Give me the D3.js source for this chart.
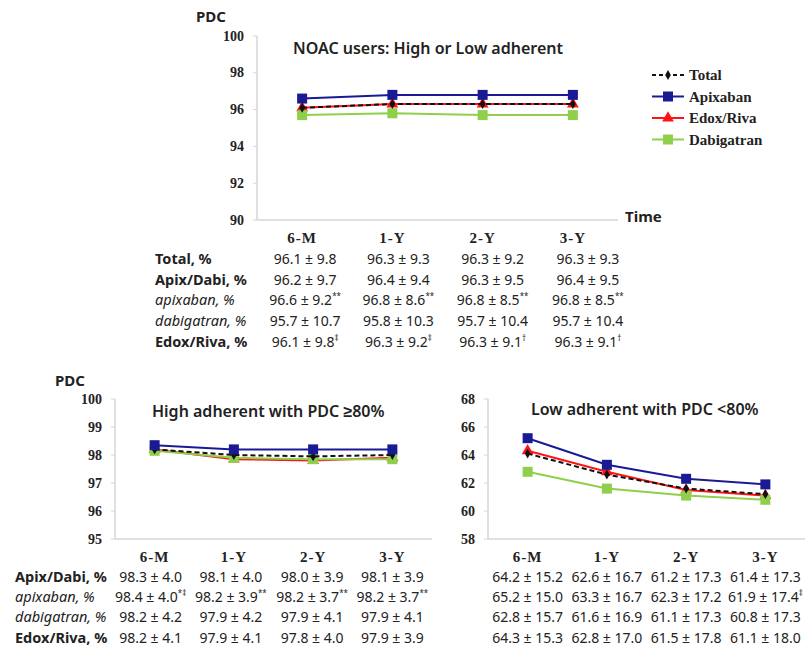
<!DOCTYPE html>
<html>
<head>
<meta charset="utf-8">
<script src="https://cdn.jsdelivr.net/npm/d3@7"></script>
<style>
  body { margin: 0; background: #fff; }
  svg { display: block; }
  .tick-lab { font-family: "Liberation Serif", serif; font-weight: bold; font-size: 14px; fill: #222; }
  .cat-lab { font-family: "Liberation Serif", serif; font-weight: bold; font-size: 15px; fill: #222; }
  .sans { font-family: "Noto Sans", sans-serif; fill: #222; }
</style>
</head>
<body>
<script>
'use strict';

// categories shared by all three panels
const periods = ['6-M', '1-Y', '2-Y', '3-Y'];
const seriesNames = ['Total', 'Apixaban', 'Edox/Riva', 'Dabigatran'];

// top panel: NOAC users, high or low adherent
const allTotal = [96.1, 96.3, 96.3, 96.3];
const allApixaban = [96.6, 96.8, 96.8, 96.8];
const allEdoxRiva = [96.1, 96.3, 96.3, 96.3];
const allDabigatran = [95.7, 95.8, 95.7, 95.7];
const allTicks = [90, 92, 94, 96, 98, 100];

// bottom left: high adherent
const highTotal = [98.2, 98.0, 97.95, 98.0];
const highApixaban = [98.35, 98.2, 98.2, 98.2];
const highEdoxRiva = [98.2, 97.85, 97.8, 97.9];
const highDabigatran = [98.15, 97.9, 97.85, 97.85];
const highTicks = [95, 96, 97, 98, 99, 100];

// bottom right: low adherent
const lowTotal = [64.1, 62.6, 61.6, 61.2];
const lowApixaban = [65.2, 63.3, 62.3, 61.9];
const lowEdoxRiva = [64.3, 62.8, 61.5, 61.1];
const lowDabigatran = [62.8, 61.6, 61.1, 60.8];
const lowTicks = [58, 60, 62, 64, 66, 68];

// table rows ("value|superscript")
const allRowLabels = ['Total, %', 'Apix/Dabi, %', 'apixaban, %', 'dabigatran, %', 'Edox/Riva, %'];
const allRows = [
  ['96.1 ± 9.8', '96.3 ± 9.3', '96.3 ± 9.2', '96.3 ± 9.3'],
  ['96.2 ± 9.7', '96.4 ± 9.4', '96.3 ± 9.5', '96.4 ± 9.5'],
  ['96.6 ± 9.2|**', '96.8 ± 8.6|**', '96.8 ± 8.5|**', '96.8 ± 8.5|**'],
  ['95.7 ± 10.7', '95.8 ± 10.3', '95.7 ± 10.4', '95.7 ± 10.4'],
  ['96.1 ± 9.8|‡', '96.3 ± 9.2|‡', '96.3 ± 9.1|†', '96.3 ± 9.1|†']
];
const subRowLabels = ['Apix/Dabi, %', 'apixaban, %', 'dabigatran, %', 'Edox/Riva, %'];
const highRows = [
  ['98.3 ± 4.0', '98.1 ± 4.0', '98.0 ± 3.9', '98.1 ± 3.9'],
  ['98.4 ± 4.0|*‡', '98.2 ± 3.9|**', '98.2 ± 3.7|**', '98.2 ± 3.7|**'],
  ['98.2 ± 4.2', '97.9 ± 4.2', '97.9 ± 4.1', '97.9 ± 4.1'],
  ['98.2 ± 4.1', '97.9 ± 4.1', '97.8 ± 4.0', '97.9 ± 3.9']
];
const lowRows = [
  ['64.2 ± 15.2', '62.6 ± 16.7', '61.2 ± 17.3', '61.4 ± 17.3'],
  ['65.2 ± 15.0', '63.3 ± 16.7', '62.3 ± 17.2', '61.9 ± 17.4|‡'],
  ['62.8 ± 15.7', '61.6 ± 16.9', '61.1 ± 17.3', '60.8 ± 17.3'],
  ['64.3 ± 15.3', '62.8 ± 17.0', '61.5 ± 17.8', '61.1 ± 18.0']
];

const colors = {'Total': '#111', 'Apixaban': '#1a1a94', 'Edox/Riva': '#ff1414', 'Dabigatran': '#8fcf4c'};
const drawOrder = ['Edox/Riva', 'Dabigatran', 'Total', 'Apixaban'];

const svg = d3.select('body').append('svg')
  .attr('width', 809)
  .attr('height', 648);

function marker(g, name, x, y) {
  let c = colors[name];
  if (name === 'Total') {
    g.append('path').attr('d', d3.symbol(d3.symbolDiamond, 28)())
      .attr('transform', `translate(${x},${y})`).attr('fill', c);
  } else if (name === 'Edox/Riva') {
    g.append('path').attr('d', d3.symbol(d3.symbolTriangle, 60)())
      .attr('transform', `translate(${x},${y})`).attr('fill', c);
  } else {
    g.append('rect').attr('x', x - 5).attr('y', y - 5)
      .attr('width', 10).attr('height', 10).attr('fill', c);
  }
}

function drawPanel(p) {
  let g = svg.append('g');
  let x = d3.scalePoint().domain(periods).range([p.x0, p.x1]).padding(0.5);
  let y = d3.scaleLinear().domain(d3.extent(p.ticks)).range([p.yBottom, p.yTop]);

  // axes (light grey)
  g.append('line').attr('x1', p.x0).attr('x2', p.x0).attr('y1', p.yTop).attr('y2', p.yBottom)
    .attr('stroke', '#d6d6d6').attr('stroke-width', 1.5);
  g.append('line').attr('x1', p.x0).attr('x2', p.x1).attr('y1', p.yBottom).attr('y2', p.yBottom)
    .attr('stroke', '#d6d6d6').attr('stroke-width', 1.5);
  p.ticks.forEach((t) => {
    g.append('line').attr('x1', p.x0 - 4).attr('x2', p.x0).attr('y1', y(t)).attr('y2', y(t))
      .attr('stroke', '#d6d6d6');
    g.append('text').attr('class', 'tick-lab').attr('x', p.x0 - 13).attr('y', y(t))
      .attr('text-anchor', 'end').attr('dominant-baseline', 'central').text(t);
  });

  if (p.pdc) {
    g.append('text').attr('class', 'sans').attr('x', p.pdc[0]).attr('y', p.pdc[1])
      .attr('font-size', 15).attr('font-weight', 'bold').text('PDC');
  }
  g.append('text').attr('class', 'sans').attr('x', p.title[0]).attr('y', p.title[1])
    .attr('font-size', 16).attr('font-weight', 600).text(p.titleText);

  let line = d3.line().x((d, i) => x(periods[i])).y((d) => y(d));
  drawOrder.forEach((name) => {
    let vals = p.series[name];
    g.append('path').attr('d', line(vals)).attr('fill', 'none')
      .attr('stroke', colors[name]).attr('stroke-width', 2)
      .attr('stroke-dasharray', name === 'Total' ? '5,3' : null);
    vals.forEach((v, i) => marker(g, name, x(periods[i]), y(v)));
  });

  // category header row
  periods.forEach((c) => {
    g.append('text').attr('class', 'cat-lab').attr('x', x(c)).attr('y', p.headY)
      .attr('text-anchor', 'middle').attr('letter-spacing', 1).text(c);
  });

  // table under the chart
  p.rows.forEach((row, r) => {
    let ty = p.rowY + r * p.rowStep;
    if (p.labels) {
      let lab = p.labels[r];
      let italic = lab === lab.toLowerCase();
      g.append('text').attr('class', 'sans').attr('x', p.labelX).attr('y', ty)
        .attr('font-size', 14.5)
        .attr('font-weight', italic ? 'normal' : 'bold')
        .attr('font-style', italic ? 'italic' : 'normal')
        .text(lab);
    }
    row.forEach((cell, i) => {
      let parts = cell.split('|');
      let t = g.append('text').attr('class', 'sans').attr('font-size', 14)
        .attr('x', x(periods[i]) + p.cellShift[i]).attr('y', ty).attr('text-anchor', 'middle');
      t.append('tspan').text(parts[0]);
      if (parts[1]) {
        t.append('tspan').attr('font-size', 8).attr('dy', -6).text(parts[1]);
      }
    });
  });
}

drawPanel({
  x0: 257, x1: 618, yTop: 36, yBottom: 220, ticks: allTicks,
  pdc: [196, 22], title: [293, 54], titleText: 'NOAC users:  High or Low adherent',
  series: {'Total': allTotal, 'Apixaban': allApixaban, 'Edox/Riva': allEdoxRiva, 'Dabigatran': allDabigatran},
  headY: 243, rowY: 264, rowStep: 20.7, labelX: 155, labels: allRowLabels, rows: allRows,
  cellShift: [3, 6, 10, 15]
});

drawPanel({
  x0: 115, x1: 432, yTop: 399, yBottom: 539, ticks: highTicks,
  pdc: [55, 386], title: [152, 417], titleText: 'High adherent with PDC ≥80%',
  series: {'Total': highTotal, 'Apixaban': highApixaban, 'Edox/Riva': highEdoxRiva, 'Dabigatran': highDabigatran},
  headY: 562, rowY: 582, rowStep: 20.2, labelX: 15, labels: subRowLabels, rows: highRows,
  cellShift: [-4, -3, -1, 0]
});

drawPanel({
  x0: 488, x1: 805, yTop: 399, yBottom: 539, ticks: lowTicks,
  pdc: null, title: [531, 415], titleText: 'Low adherent with PDC <80%',
  series: {'Total': lowTotal, 'Apixaban': lowApixaban, 'Edox/Riva': lowEdoxRiva, 'Dabigatran': lowDabigatran},
  headY: 562, rowY: 582, rowStep: 20.2, labelX: null, labels: null, rows: lowRows,
  cellShift: [0, 0, 0, 0]
});

// "Time" axis title on the top panel
svg.append('text').attr('class', 'sans').attr('x', 625).attr('y', 222)
  .attr('font-size', 15).attr('font-weight', 'bold').text('Time');

// legend
let legend = svg.append('g');
seriesNames.forEach((name, i) => {
  let ly = 75 + i * 21.5;
  legend.append('line').attr('x1', 652).attr('x2', 684).attr('y1', ly).attr('y2', ly)
    .attr('stroke', colors[name]).attr('stroke-width', 2)
    .attr('stroke-dasharray', name === 'Total' ? '4,3' : null);
  marker(legend, name, 668, ly);
  legend.append('text').attr('class', 'cat-lab').attr('x', 689).attr('y', ly)
    .attr('dominant-baseline', 'central').text(name);
});
</script>
</body>
</html>
